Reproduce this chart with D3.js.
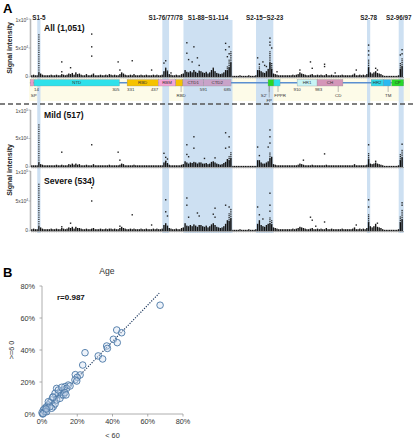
<!DOCTYPE html>
<html><head><meta charset="utf-8">
<script src="https://cdn.jsdelivr.net/npm/d3@7"></script>
<style>body{margin:0;background:#fff}svg{display:block}</style>
</head><body>
<svg id="c" width="413" height="440"></svg>
<script>
// ---------------- DATA ----------------
const rowTitles = ["All (1,051)", "Mild (517)", "Severe (534)"];
const yTickValues = [0, 50, 100];             // in thousands
const yTickLabels = [["0",""], ["5x10","4"], ["1x10","5"]];

// dense stack heights per peptide (thousands), S1-1..S1-114 and S2-1..S2-97
const allS1 = [3,4,3,3,76,6,4,3,3,3, 3,4,3,3,4,3,3,5,4,3, 4,6,5,7,4,8,5,6,4,3, 3,5,3,3,4,6,3,3,3,4, 3,3,4,3,5,4,3,4,3,3, 5,8,6,4,3,3,4,3,5,3, 3,3,4,3,3,4,3,3,3,4, 3,4,3,3,4,10,14,9,5,4, 3,3,4,3,3,5,6,12,9,8, 10,8,12,9,7,11,10,8,7,9, 6,8,12,14,10,7,6,5,6,8, 12,20,30,45];
const allS2 = [2,2,2,2,3,2,2,2,2,3, 2,2,2,3,12,20,10,8,7,10, 14,45,25,6,5,4,3,3,3,3, 3,3,3,3,4,3,4,5,8,6, 5,4,3,3,4,5,3,3,4,3, 4,3,3,5,3,3,4,3,3,3, 3,3,4,3,3,3,3,3,4,6, 3,3,4,3,4,3,5,30,8,6, 8,10,7,6,5,3,2,2,2,2, 2,2,2,2,3,25,34];
const mildS1 = [3,3,3,3,74,5,4,3,3,3, 3,3,3,3,4,3,3,4,3,3, 3,5,4,6,4,6,4,5,3,3, 3,4,3,3,3,5,3,3,3,3, 3,3,3,3,4,3,3,3,3,3, 4,6,5,3,3,3,3,3,4,3, 3,3,3,3,3,3,3,3,3,3, 3,3,3,3,3,8,10,7,4,3, 3,3,3,3,3,4,5,10,8,6, 8,7,9,8,6,8,8,6,6,7, 5,6,9,10,8,6,5,4,5,7, 9,14,21,28];
const mildS2 = [2,2,2,2,2,2,2,2,2,2, 2,2,2,2,12,12,8,6,6,8, 10,27,18,5,4,3,3,3,3,3, 3,3,3,3,3,3,3,4,6,5, 4,3,3,3,3,4,3,3,3,3, 3,3,3,4,3,3,3,3,3,3, 3,3,3,3,3,3,3,3,3,5, 3,3,3,3,3,3,4,25,6,5, 6,8,6,5,4,3,2,2,2,2, 2,2,2,2,3,22,30];
const severeS1 = [3,4,3,3,78,6,4,3,3,3, 3,4,3,3,4,3,3,5,4,3, 4,6,5,7,4,7,5,5,4,3, 3,4,3,3,4,5,3,3,3,4, 3,3,4,3,4,4,3,4,3,3, 5,7,5,4,3,3,4,3,4,3, 3,3,4,3,3,4,3,3,3,4, 3,4,3,3,4,10,13,9,5,4, 3,3,4,3,3,5,6,13,9,8, 10,8,11,9,7,10,10,8,7,9, 6,8,11,13,10,7,6,5,6,8, 12,18,30,38];
const severeS2 = [2,2,2,2,3,2,2,2,2,3, 2,2,2,3,12,18,10,8,7,10, 12,23,20,6,5,4,3,3,3,3, 3,3,3,3,4,3,4,5,7,6, 5,4,3,3,4,5,3,3,4,3, 4,3,3,5,3,3,4,3,3,3, 3,3,4,3,3,3,3,3,4,6, 3,3,4,3,4,3,5,27,8,6, 8,12,7,6,5,3,2,2,2,2, 2,2,2,2,3,26,35];

// scattered single points: [segment (1=S1,2=S2), peptide no., signal in thousands]
const allPts = [[1,18,26],[1,18,9],[1,23,16],[1,35,74],[1,35,52],[1,35,36],[1,50,26],[1,51,12],[1,58,28],[1,69,12],[1,76,24],[1,77,15],[1,77,28],[1,78,10],[1,80,7],[1,89,59],[1,89,41],[1,90,30],[1,93,52],[1,92,26],[1,95,33],[1,96,20],[1,104,15],[1,111,58],[1,111,47],[1,113,52],[1,113,40],[1,112,35],
 [2,15,33],[2,16,22],[2,18,26],[2,19,20],[2,20,18],[2,22,67],[2,22,60],[2,22,55],[2,23,50],[2,26,9],[2,39,12],[2,45,26],[2,46,15],[2,53,22],[2,53,18],[2,59,7],[2,71,12],[2,78,55],[2,78,45],[2,78,38],[2,82,15],[2,83,12],[2,97,47],[2,97,40],[2,96,38]];
const mildPts = [[1,18,26],[1,35,39],[1,50,26],[1,51,12],[1,76,24],[1,77,17],[1,77,10],[1,78,14],[1,89,39],[1,93,53],[1,93,33],[1,89,22],[1,90,18],[1,99,15],[1,105,16],[1,111,60],[1,111,33],[1,113,53],[1,113,35],
 [2,15,35],[2,16,20],[2,22,65],[2,22,53],[2,22,42],[2,21,35],[2,53,23],[2,41,12],[2,78,39],[2,97,40],[2,82,10]];
const severePts = [[1,18,7],[1,23,13],[1,35,72],[1,35,50],[1,51,8],[1,58,27],[1,69,10],[1,77,52],[1,77,32],[1,78,25],[1,89,55],[1,89,43],[1,90,23],[1,95,30],[1,96,25],[1,105,38],[1,105,23],[1,111,43],[1,113,40],[1,104,28],
 [2,15,40],[2,16,27],[2,18,20],[2,22,63],[2,22,43],[2,22,33],[2,45,23],[2,46,18],[2,48,8],[2,53,15],[2,71,10],[2,78,52],[2,78,40],[2,83,13],[2,97,47],[2,97,43]];

// highlighted peptide regions
const regionLabels = ["S1-5","S1-76/77/78","S1-88~S1-114","S2-15~S2-23","S2-78","S2-96/97"];
const regionSeg    = [1,1,1,2,2,2];
const regionFrom   = [5,76,88,15,78,96];
const regionTo     = [5,78,114,23,78,97];

// spike protein domains (aa positions)
const domainNames  = ["","NTD","RBD","RBM","","CTD1","CTD2","","","HR1","CH","HR2","","CP"];
const domainStart  = [1,14,331,437,497,521,591,811,831,910,978,1162,1203,1232];
const domainEnd    = [13,305,437,497,521,591,685,831,852,978,1066,1203,1229,1273];
const domainColor  = ["#e79bcb","#2fe1ea","#f6c200","#f3a3d6","#f6c200","#c9a3c9","#c9a3c9","#27d827","#2fe1ea","#c8f4f5","#d496b9","#2fd9ea","#2ab9f0","#27d827"];
// numbers / names under the bar
const posLabels   = ["14","305","331","437","591","685","910","983"];
const posAA       = [14,305,331,437,591,685,910,983];
const posAnchor   = ["start","end","start","end","middle","end","middle","middle"];
const nameLabels  = ["SP","RBD","S2'","FP","FPPR","CD","TM"];
const nameAA      = [3,515,797,815,832,1050,1220];
const tickAA      = [null,515,815,815,845,1050,1220];
const nameRow     = [0,0,0,1,0,0,0];
const nameAnchor  = ["start","middle","middle","middle","start","middle","middle"];

// panel B: age correlation
const under60 = [67,42.4,45.2,40.5,42.7,36.7,37.1,24.4,31.9,34.4,23.1,18.9,21.6,20,18.7,19.7,14.9,13,12.1,10.2,14,8.3,9.3,11.2,6.4,7.4,5.5,4.5,3.6,2.6,1.7,0.75,0,0.4,1.7,2.6,6.4,7.4,5.5,8.3,10.2,12.1,13,4.5,3.6,6.1,9.3,11.2,15.9,13.6,0.6,2.3];
const over60  = [68,52.5,50.8,46.7,44.6,42.5,41,38.3,36.3,34.4,30.6,24.6,24.4,22.9,21.3,20.6,18.1,17.1,15,13.9,16,16,12.9,11.9,10.8,12.9,8.75,7.1,5.6,4.6,3.6,2.5,0.8,0,1.4,1.4,4.6,6.3,3.6,8.75,9.8,11.9,13.3,4.6,7.7,10.4,15,16.7,17.5,11.9,0.3,3.1];
const pctTicks = [0,20,40,60,80];
const trendX = [0.5, 66.5];
const trendY = [0.3, 75.5];

// ---------------- DRAW ----------------
const svg = d3.select("#c");
const FONT = "'Liberation Sans', Arial, sans-serif";
const X = d3.scaleLinear().domain([0,1273]).range([29.9,403.7]);
const pepStart = (seg,n) => seg===1 ? 6*(n-1)+1 : 686+6*(n-1);
const pepCenter = (seg,n) => pepStart(seg,n)+5.5;

// panel letters
svg.append("text").attr("x",3).attr("y",13).text("A").attr("font-family",FONT).attr("font-weight","bold").attr("font-size",13);
svg.append("text").attr("x",3).attr("y",277).text("B").attr("font-family",FONT).attr("font-weight","bold").attr("font-size",13);

// cream background for domain map
svg.append("rect").attr("x",29).attr("y",78).attr("width",381).attr("height",23).attr("fill","#fdfbe8");

// shaded regions
regionLabels.forEach((lab,i)=>{
  const x0 = X(pepStart(regionSeg[i],regionFrom[i]));
  const x1 = X(pepStart(regionSeg[i],regionTo[i])+11);
  svg.append("rect").attr("x",x0).attr("y",20).attr("width",x1-x0).attr("height",213).attr("fill","#cde0f2");
  const last = i === regionLabels.length-1;
  svg.append("text").attr("x",last ? 411.5 : (x0+x1)/2).attr("y",19.5).attr("text-anchor",last?"end":"middle").text(lab)
    .attr("font-family",FONT).attr("font-weight","bold").attr("font-size",6.3).attr("fill","#222");
});

// rows
const rows = [
  {title:rowTitles[0], s1:allS1, s2:allS2, pts:allPts, y0:77, y1:19, ty:31},
  {title:rowTitles[1], s1:mildS1, s2:mildS2, pts:mildPts, y0:167, y1:110, ty:118},
  {title:rowTitles[2], s1:severeS1, s2:severeS2, pts:severePts, y0:231, y1:171, ty:184}
];
const labelOffset = [0.9, 1.8, 3.0];
rows.forEach(r=>{
  const Y = d3.scaleLinear().domain([0,100]).range([r.y0,r.y1]);
  const g = svg.append("g");
  // y axis
  g.append("line").attr("x1",30.5).attr("x2",30.5).attr("y1",Y(0)).attr("y2",Y(100)).attr("stroke","#b8b8b8").attr("stroke-width",1.6);
  yTickValues.forEach((v,i)=>{
    g.append("line").attr("x1",28.5).attr("x2",30.5).attr("y1",Y(v)).attr("y2",Y(v)).attr("stroke","#999").attr("stroke-width",0.6);
    const t = g.append("text").attr("x",28).attr("y",Y(v)+labelOffset[i]).attr("text-anchor","end")
      .attr("font-family",FONT).attr("font-size",5).attr("fill","#444");
    t.append("tspan").text(yTickLabels[i][0]);
    if (yTickLabels[i][1]) t.append("tspan").attr("dy",-1.8).attr("font-size",3.2).text(yTickLabels[i][1]);
  });
  // baseline
  g.append("line").attr("x1",31).attr("x2",404).attr("y1",Y(0)+0.5).attr("y2",Y(0)+0.5).attr("stroke","#9a9a9a").attr("stroke-width",0.8);
  const peps = [];
  r.s1.forEach((h,i)=>peps.push({seg:1,n:i+1,h}));
  r.s2.forEach((h,i)=>peps.push({seg:2,n:i+1,h}));
  peps.forEach(p=>{
    const cx = X(pepCenter(p.seg,p.n));
    g.append("line").attr("x1",cx).attr("x2",cx).attr("y1",Y(0)).attr("y2",Y(0)+1.6).attr("stroke","#999").attr("stroke-width",0.5);
    if (p.h > 60) {
      const top = Y(p.h), bot = Y(0);
      g.append("rect").attr("x",cx-0.7).attr("y",Y(8)).attr("width",1.4).attr("height",bot-Y(8)).attr("fill","#1a1a1a");
      for (let y=Y(8); y>=top; y-=2.2)
        g.append("rect").attr("x",cx-0.7).attr("y",y-0.7).attr("width",1.4).attr("height",1.1).attr("fill","#333");
    } else if (p.h > 18) {
      const solid = p.h*0.55;
      g.append("rect").attr("x",cx-0.75).attr("y",Y(solid)).attr("width",1.5).attr("height",Y(0)-Y(solid)).attr("fill","#111");
      for (let y=Y(solid); y>=Y(p.h); y-=1.8)
        g.append("rect").attr("x",cx-0.65).attr("y",y-0.6).attr("width",1.3).attr("height",1.1).attr("fill","#222");
    } else {
      g.append("rect").attr("x",cx-0.7).attr("y",Y(p.h)).attr("width",1.4).attr("height",Y(0)-Y(p.h)).attr("fill","#151515");
    }
  });
  r.pts.forEach(p=>{
    g.append("rect").attr("x",X(pepCenter(p[0],p[1]))-0.7).attr("y",Y(p[2])-0.7).attr("width",1.4).attr("height",1.4).attr("fill","#222");
  });
  g.append("text").attr("x",44).attr("y",r.ty).text(r.title).attr("font-family",FONT).attr("font-weight","bold").attr("font-size",8.6).attr("fill","#111");
});

// y axis titles
[[12,48],[12,170]].forEach(p=>{
  svg.append("text").attr("transform",`translate(${p[0]},${p[1]}) rotate(-90)`).attr("text-anchor","middle")
    .text("Signal intensity").attr("font-family",FONT).attr("font-weight","bold").attr("font-size",7).attr("fill","#222");
});

// dashed separator
svg.append("line").attr("x1",0).attr("x2",413).attr("y1",104).attr("y2",104).attr("stroke","#555").attr("stroke-width",1.3).attr("stroke-dasharray","5,3");

// domain bar
const barY = 79.5, barH = 6.5;
svg.append("line").attr("x1",X(0)).attr("x2",X(1273)).attr("y1",barY+barH/2).attr("y2",barY+barH/2).attr("stroke","#5b8fd0").attr("stroke-width",1.6);
domainStart.forEach((s,i)=>{
  svg.append("rect").attr("x",X(s)).attr("y",barY).attr("width",X(domainEnd[i])-X(s)).attr("height",barH)
    .attr("fill",domainColor[i]).attr("stroke","#8a8a8a").attr("stroke-width",0.3);
  if (domainNames[i]) svg.append("text").attr("x",(X(s)+X(domainEnd[i]))/2).attr("y",barY+barH/2+1.6).attr("text-anchor","middle")
    .text(domainNames[i]).attr("font-family",FONT).attr("font-size",4.4).attr("fill","#333");
});
posLabels.forEach((l,i)=>{
  svg.append("text").attr("x",X(posAA[i])).attr("y",90.5).attr("text-anchor",posAnchor[i]).text(l)
    .attr("font-family",FONT).attr("font-size",4.4).attr("fill","#333");
});
nameLabels.forEach((l,i)=>{
  const yy = nameRow[i]===0 ? 96.5 : 101.5;
  if (tickAA[i] !== null) {
    const tx = X(tickAA[i]);
    svg.append("line").attr("x1",tx).attr("x2",tx).attr("y1",barY+barH).attr("y2",nameRow[i]===0 ? 92 : 97.5).attr("stroke","#777").attr("stroke-width",0.5);
  }
  svg.append("text").attr("x",X(nameAA[i])).attr("y",yy).attr("text-anchor",nameAnchor[i]).text(l)
    .attr("font-family",FONT).attr("font-size",4.4).attr("fill","#333");
});

// ---------------- PANEL B ----------------
const bx = d3.scaleLinear().domain([0,80]).range([42,183]);
const by = d3.scaleLinear().domain([0,80]).range([414,286]);
const gb = svg.append("g");
gb.append("line").attr("x1",bx(0)).attr("x2",bx(80)).attr("y1",by(0)).attr("y2",by(0)).attr("stroke","#999").attr("stroke-width",0.8);
gb.append("line").attr("x1",bx(0)).attr("x2",bx(0)).attr("y1",by(0)).attr("y2",by(80)).attr("stroke","#999").attr("stroke-width",0.8);
pctTicks.forEach(v=>{
  gb.append("line").attr("x1",bx(v)).attr("x2",bx(v)).attr("y1",by(0)).attr("y2",by(0)+2.5).attr("stroke","#999").attr("stroke-width",0.8);
  gb.append("line").attr("x1",bx(0)-2.5).attr("x2",bx(0)).attr("y1",by(v)).attr("y2",by(v)).attr("stroke","#999").attr("stroke-width",0.8);
  gb.append("text").attr("x",bx(v)).attr("y",by(0)+10).attr("text-anchor","middle").text(v+"%").attr("font-family",FONT).attr("font-size",7.3).attr("fill","#333");
  gb.append("text").attr("x",bx(0)-7).attr("y",by(v)+2.6).attr("text-anchor","end").text(v+"%").attr("font-family",FONT).attr("font-size",7.3).attr("fill","#333");
});
gb.append("text").attr("x",bx(40)).attr("y",438).attr("text-anchor","middle").text("< 60").attr("font-family",FONT).attr("font-size",7.3).attr("fill","#333");
gb.append("text").attr("transform",`translate(14,${by(40)}) rotate(-90)`).attr("text-anchor","middle").text(">=6 0").attr("font-family",FONT).attr("font-size",7.3).attr("fill","#333");
gb.append("text").attr("x",107).attr("y",274).attr("text-anchor","middle").text("Age").attr("font-family",FONT).attr("font-size",8.6).attr("fill","#333");
gb.append("text").attr("x",57).attr("y",300).text("r=0.987").attr("font-family",FONT).attr("font-weight","bold").attr("font-size",8).attr("fill","#111");
gb.append("line").attr("x1",bx(trendX[0])).attr("x2",bx(trendX[1])).attr("y1",by(trendY[0])).attr("y2",by(trendY[1]))
  .attr("stroke","#1f3a60").attr("stroke-width",1.2).attr("stroke-dasharray","1.2,1.4");
gb.selectAll("circle.p").data(under60.map((u,i)=>[u,over60[i]])).enter().append("circle")
  .attr("cx",d=>bx(d[0])).attr("cy",d=>by(d[1])).attr("r",3.3)
  .attr("fill","rgba(205,222,240,0.35)").attr("stroke","#4a77a6").attr("stroke-width",0.9);
</script>
</body></html>
